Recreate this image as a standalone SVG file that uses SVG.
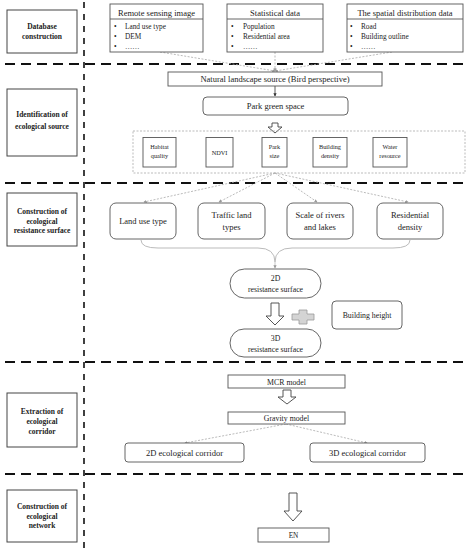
<svg xmlns="http://www.w3.org/2000/svg" width="470" height="550" viewBox="0 0 470 550">
<defs>
<marker id="ga" viewBox="0 0 6 6" refX="5" refY="3" markerWidth="4" markerHeight="4" orient="auto"><path d="M0,0 L6,3 L0,6 z" fill="#999"/></marker>
<marker id="ba" viewBox="0 0 6 6" refX="5" refY="3" markerWidth="4" markerHeight="4" orient="auto"><path d="M0,0 L6,3 L0,6 z" fill="#333"/></marker>
</defs>
<style>
text{font-family:"Liberation Serif","Times New Roman",serif;fill:#222;text-anchor:middle}
.lab{font-weight:bold;font-size:7.5px}
.box{fill:#fff;stroke:#555;stroke-width:0.9}
.lbox{fill:#fff;stroke:#444;stroke-width:1}
.sep{stroke:#111;stroke-width:2;stroke-dasharray:10,6;fill:none}
.vsep{stroke:#111;stroke-width:1.6;stroke-dasharray:6,6;fill:none}
.dot{stroke:#aaa;stroke-width:0.8;stroke-dasharray:2,1.5;fill:none}
.blk{fill:#fff;stroke:#444;stroke-width:0.9}
.t9{font-size:8.5px}
.t8{font-size:7.8px}
.t7{font-size:7.3px}
.t6{font-size:6.3px}
.lt{text-anchor:start}
</style>
<rect width="470" height="550" fill="#fff"/>

<g id="separators">
<line class="sep" x1="5" y1="64" x2="466" y2="64"/>
<line class="sep" x1="5" y1="183" x2="466" y2="183"/>
<line class="sep" x1="5" y1="362" x2="466" y2="362"/>
<line class="sep" x1="5" y1="474" x2="466" y2="474"/>
<line class="vsep" x1="84" y1="2" x2="84" y2="548"/>
</g>

<g id="stage-labels">
<g id="lab1"><rect class="lbox" x="7" y="10" width="70" height="43"/><text class="lab" x="42" y="29">Database</text><text class="lab" x="42" y="39">construction</text></g>
<g id="lab2"><rect class="lbox" x="7" y="89" width="70" height="67"/><text class="lab" x="42" y="117">Identification of</text><text class="lab" x="42" y="129">ecological source</text></g>
<g id="lab3"><rect class="lbox" x="7" y="193" width="70" height="53"/><text class="lab" x="42" y="214">Construction of</text><text class="lab" x="42" y="223.5">ecological</text><text class="lab" x="42" y="233">resistance surface</text></g>
<g id="lab4"><rect class="lbox" x="7" y="393" width="70" height="54"/><text class="lab" x="42" y="414">Extraction of</text><text class="lab" x="42" y="424">ecological</text><text class="lab" x="42" y="434">corridor</text></g>
<g id="lab5"><rect class="lbox" x="7" y="490" width="70" height="52"/><text class="lab" x="42" y="509">Construction of</text><text class="lab" x="42" y="518.5">ecological</text><text class="lab" x="42" y="528">network</text></g>
</g>

<g id="connectors">
<line class="dot" x1="160" y1="52" x2="275" y2="71" marker-end="url(#ga)"/>
<line class="dot" x1="275" y1="52" x2="275" y2="71" marker-end="url(#ga)"/>
<line class="dot" x1="392" y1="52" x2="275" y2="71" marker-end="url(#ga)"/>
<line x1="275" y1="86" x2="275" y2="96" stroke="#333" stroke-width="0.8" marker-end="url(#ba)"/>
<path class="blk" d="M272,123 h6 v4 h4 l-7,6 l-7,-6 h4 z"/>
<line class="dot" x1="275" y1="173" x2="144" y2="202" marker-end="url(#ga)"/>
<line class="dot" x1="275" y1="173" x2="219" y2="202" marker-end="url(#ga)"/>
<line class="dot" x1="275" y1="173" x2="317" y2="202" marker-end="url(#ga)"/>
<line class="dot" x1="275" y1="173" x2="408" y2="202" marker-end="url(#ga)"/>
<path d="M141,240 Q141,248 158,248 L258,248 Q275,248 275,262 Q275,248 292,248 L393,248 Q410,248 410,240" fill="none" stroke="#bbb" stroke-width="1"/>
<line x1="275" y1="262" x2="275" y2="268" stroke="#bbb" stroke-width="0.8" marker-end="url(#ga)"/>
<path class="blk" d="M271,303 h8 v13 h5 l-9,9 l-9,-9 h5 z"/>
<path d="M299,310 h8 v4 h7 v6 h-7 v4 h-8 v-4 h-7 v-6 h7 z" fill="#d4d4d4" stroke="#999" stroke-width="0.8"/>
<path class="blk" d="M283,390 h8 v7 h5 l-9,7 l-9,-7 h5 z"/>
<line class="dot" x1="286" y1="424" x2="185" y2="443" marker-end="url(#ga)"/>
<line class="dot" x1="286" y1="424" x2="367" y2="443" marker-end="url(#ga)"/>
<path class="blk" d="M289,493 h8 v18 h5 l-9,10 l-9,-10 h5 z"/>
</g>

<g id="rs"><rect class="box" x="110" y="4" width="93" height="48"/><line x1="110" y1="19" x2="203" y2="19" stroke="#555" stroke-width="0.9"/><text class="t9" x="156.5" y="15.5">Remote sensing image</text>
<text class="t7 lt" x="114" y="28.5">•</text><text class="t7 lt" x="125" y="28.5">Land use type</text>
<text class="t7 lt" x="114" y="39">•</text><text class="t7 lt" x="125" y="39">DEM</text>
<text class="t7 lt" x="114" y="49">•</text><text class="t7 lt" x="125" y="49">……</text></g>

<g id="stat"><rect class="box" x="227" y="4" width="96" height="48"/><line x1="227" y1="19" x2="323" y2="19" stroke="#555" stroke-width="0.9"/><text class="t9" x="275" y="15.5">Statistical data</text>
<text class="t7 lt" x="231" y="28.5">•</text><text class="t7 lt" x="243" y="28.5">Population</text>
<text class="t7 lt" x="231" y="39">•</text><text class="t7 lt" x="243" y="39">Residential area</text>
<text class="t7 lt" x="231" y="49">•</text><text class="t7 lt" x="243" y="49">……</text></g>

<g id="spat"><rect class="box" x="347" y="4" width="116" height="48"/><line x1="347" y1="19" x2="463" y2="19" stroke="#555" stroke-width="0.9"/><text class="t9" x="405" y="15.5">The spatial distribution data</text>
<text class="t7 lt" x="350" y="28.5">•</text><text class="t7 lt" x="361" y="28.5">Road</text>
<text class="t7 lt" x="350" y="39">•</text><text class="t7 lt" x="361" y="39">Building outline</text>
<text class="t7 lt" x="350" y="49">•</text><text class="t7 lt" x="361" y="49">……</text></g>

<g id="natural"><rect class="box" x="168" y="72" width="214" height="14"/><text class="t9" x="275" y="82">Natural landscape source (Bird perspective)</text></g>
<g id="park"><rect class="box" x="203" y="97" width="145" height="18" rx="4"/><text class="t9" x="275.5" y="109">Park green space</text></g>

<g id="factors">
<rect x="133" y="131" width="332" height="42" fill="none" stroke="#aaa" stroke-width="0.8" stroke-dasharray="2,1.5"/>
<g id="f1"><rect class="box" x="143" y="137.5" width="33" height="29.5"/><text class="t6" x="159.5" y="149">Habitat</text><text class="t6" x="159.5" y="158">quality</text></g>
<g id="f2"><rect class="box" x="206" y="137.5" width="27" height="29.5"/><text class="t6" x="219.5" y="154.5">NDVI</text></g>
<g id="f3"><rect class="box" x="262" y="137.5" width="25" height="29.5"/><text class="t6" x="274.5" y="149">Park</text><text class="t6" x="274.5" y="158">size</text></g>
<g id="f4"><rect class="box" x="313" y="137.5" width="34" height="29.5"/><text class="t6" x="330" y="149">Building</text><text class="t6" x="330" y="158">density</text></g>
<g id="f5"><rect class="box" x="373" y="137.5" width="34" height="29.5"/><text class="t6" x="390" y="149">Water</text><text class="t6" x="390" y="158">resource</text></g>
</g>

<g id="landuse"><rect class="box" x="110" y="203" width="66" height="36" rx="6"/><text class="t9" x="143" y="224">Land use type</text></g>
<g id="traffic"><rect class="box" x="198" y="203" width="67" height="36" rx="6"/><text class="t9" x="231.5" y="218">Traffic land</text><text class="t9" x="231.5" y="229.5">types</text></g>
<g id="rivers"><rect class="box" x="287" y="203" width="66" height="36" rx="6"/><text class="t9" x="320" y="218">Scale of rivers</text><text class="t9" x="320" y="229.5">and lakes</text></g>
<g id="resid"><rect class="box" x="377" y="203" width="66" height="36" rx="6"/><text class="t9" x="410" y="218">Residential</text><text class="t9" x="410" y="229.5">density</text></g>

<g id="r2d"><rect class="box" x="230" y="269" width="91" height="29" rx="14.5"/><text class="t8" x="275.5" y="281">2D</text><text class="t8" x="275.5" y="292">resistance surface</text></g>
<g id="bheight"><rect class="box" x="332" y="301" width="70" height="28" rx="4"/><text class="t8" x="367" y="317.5">Building height</text></g>
<g id="r3d"><rect class="box" x="230" y="329" width="91" height="28" rx="14"/><text class="t8" x="275.5" y="340.5">3D</text><text class="t8" x="275.5" y="351.5">resistance surface</text></g>

<g id="mcr"><rect class="box" x="228" y="375" width="117" height="13"/><text class="t8" x="286.5" y="384.5">MCR model</text></g>
<g id="gravity"><rect class="box" x="228" y="412" width="117" height="12"/><text class="t8" x="286.5" y="421">Gravity model</text></g>
<g id="c2d"><rect class="box" x="125" y="443" width="119" height="19" rx="3"/><text class="t9" x="184.5" y="455.5">2D ecological corridor</text></g>
<g id="c3d"><rect class="box" x="310" y="443" width="115" height="19" rx="3"/><text class="t9" x="367.5" y="455.5">3D ecological corridor</text></g>
<g id="en"><rect class="box" x="258" y="528" width="71" height="14"/><text class="t7" x="293.5" y="538">EN</text></g>
</svg>
